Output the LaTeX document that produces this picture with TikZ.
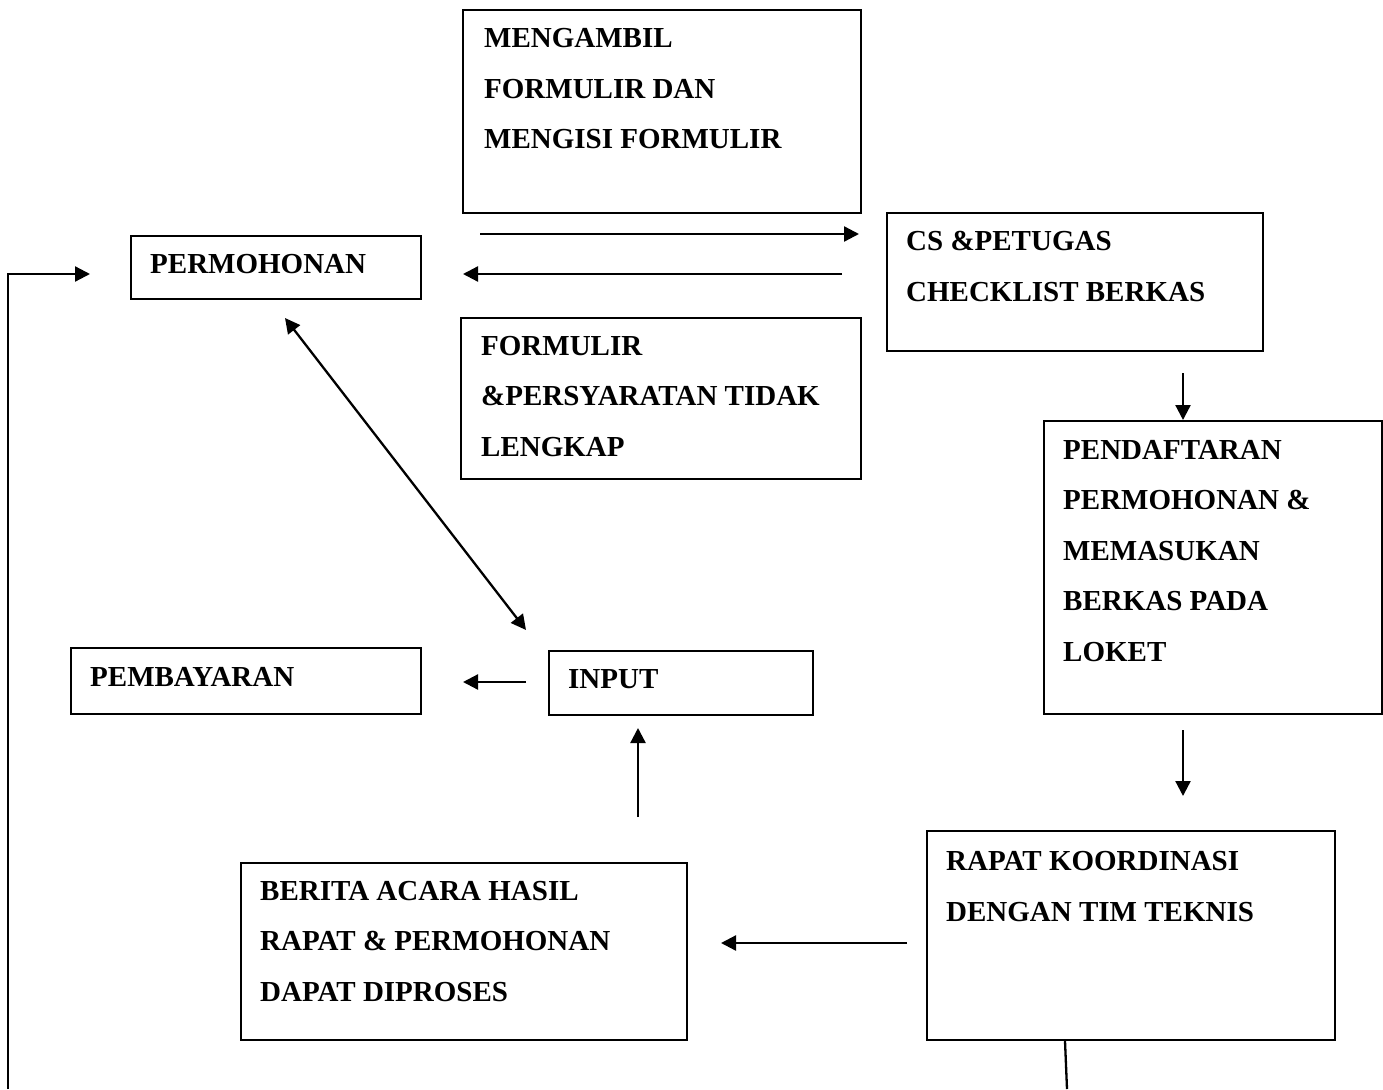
\documentclass[tikz,border=0pt]{standalone}
\usepackage{fontspec}
\setmainfont{Liberation Serif}
\usetikzlibrary{arrows.meta,calc}
\tikzset{
  box/.style={draw, line width=2.2pt, inner sep=0pt, anchor=north west},
  txt/.style={anchor=base west, align=left, inner sep=0pt,
    font=\fontsize{29}{50.5}\selectfont\bfseries},
  arr/.style={line width=2.3pt, -{Triangle[length=15pt,width=15pt]}},
  darr/.style={line width=2.3pt, {Triangle[length=15pt,width=15pt]}-{Triangle[length=15pt,width=15pt]}},
  plain/.style={line width=2.3pt}
}
\begin{document}
\begin{tikzpicture}[x=1pt,y=-1pt]
\useasboundingbox (0,0) rectangle (1383,1089);
% boxes
\node[box, minimum width=398pt, minimum height=203pt] (mengambil) at (462,9) {};
\node[box, minimum width=290pt, minimum height=63pt] (perm) at (130,235) {};
\node[box, minimum width=376pt, minimum height=138pt] (cs) at (886,212) {};
\node[box, minimum width=400pt, minimum height=161pt] (formulir) at (460,317) {};
\node[box, minimum width=338pt, minimum height=293pt] (pend) at (1043,420) {};
\node[box, minimum width=350pt, minimum height=66pt] (bayar) at (70,647) {};
\node[box, minimum width=264pt, minimum height=64pt] (input) at (548,650) {};
\node[box, minimum width=446pt, minimum height=177pt] (berita) at (240,862) {};
\node[box, minimum width=408pt, minimum height=209pt] (rapat) at (926,830) {};
% texts (anchored at the baseline of their last line)
\node[txt] (tmengambil) at (484,149) {MENGAMBIL\\FORMULIR DAN\\MENGISI FORMULIR};
\node[txt] (tperm) at (150,273) {PERMOHONAN};
\node[txt] (tcs) at (906,301) {CS \&PETUGAS\\CHECKLIST BERKAS};
\node[txt] (tformulir) at (481,456) {FORMULIR\\\&PERSYARATAN TIDAK\\LENGKAP};
\node[txt] (tpend) at (1063,661) {PENDAFTARAN\\PERMOHONAN \&\\MEMASUKAN\\BERKAS PADA\\LOKET};
\node[txt] (tbayar) at (90,686) {PEMBAYARAN};
\node[txt] (tinput) at (568,688) {INPUT};
\node[txt] (tberita) at (260,1001) {BERITA ACARA HASIL\\RAPAT \& PERMOHONAN\\DAPAT DIPROSES};
\node[txt] (trapat) at (946,921) {RAPAT KOORDINASI\\DENGAN TIM TEKNIS};
% connector end points
\coordinate (a1s) at (480,234);  \coordinate (a1e) at (859,234);
\coordinate (a2s) at (842,274);  \coordinate (a2e) at (463,274);
\coordinate (a3s) at (1183,373);
\coordinate (a4s) at (1183,730); \coordinate (a4e) at (1183,796);
\coordinate (a5s) at (907,943);  \coordinate (a5e) at (721,943);
\coordinate (a6s) at (638,817);  \coordinate (a6e) at (638,728);
\coordinate (a7s) at (526,682);  \coordinate (a7e) at (463,682);
\coordinate (a8s) at (285,318);  \coordinate (a8e) at (526,630);
\coordinate (a9s) at (8,1089);   \coordinate (a9e) at (90,274);
\coordinate (a10x) at (1065,0);  \coordinate (a10e) at (1067,1089);
% connectors
\draw[arr] (a1s) -- (a1e);
\draw[arr] (a2s) -- (a2e);
\draw[arr] (a3s) -- (a3s |- pend.north);
\draw[arr] (a4s) -- (a4e);
\draw[arr] (a5s) -- (a5e);
\draw[arr] (a6s) -- (a6e);
\draw[arr] (a7s) -- (a7e);
\draw[darr] (a8s) -- (a8e);
\draw[arr] (a9s) |- (a9e);
\draw[plain] (a10x |- rapat.south) -- (a10e);
\end{tikzpicture}
\end{document}
